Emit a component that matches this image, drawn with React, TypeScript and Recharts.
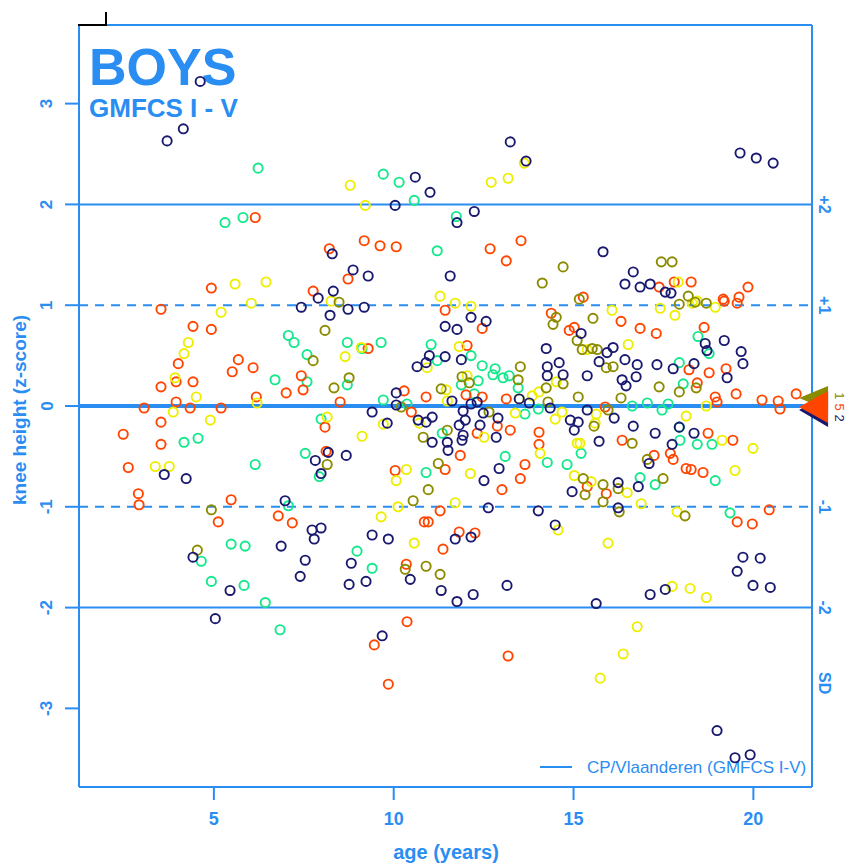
import React from 'react';
import { ScatterChart, Scatter, XAxis, YAxis, ReferenceLine } from 'recharts';

const BLUE = '#2a8df2';
const FONT = '"Liberation Sans", Arial, sans-serif';

// axis setup
const xDomain = [1.25, 21.63];
const yDomain = [-3.78, 3.78];
const xTicks = [5, 10, 15, 20];
const yTicks = [-3, -2, -1, 0, 1, 2, 3];
const sdTicks = [2, 1, -1, -2, -2.75];
const sdLabels = ['+2', '+1', '-1', '-2', 'SD'];
const solidRefs = [-2, 2];
const dashedRefs = [-1, 1];
const meanRef = 0;
const topEdge = 3.78;

// [age (years), knee height z-score], one list per colour
const orangePts: [number, number][] = [
  [6.15, 1.87], [8.21, 1.56], [9.18, 1.64], [9.62, 1.59], [10.07, 1.58], [8.73, 1.26], [4.93, 1.17], [3.53, 0.96],
  [7.76, 1.14], [11.43, 0.95], [4.42, 0.79], [4.93, 0.76], [12.68, 1.56], [13.54, 1.64], [2.48, -0.28], [2.62, -0.61],
  [2.9, -0.87], [2.92, -0.98], [3.06, -0.02], [3.53, 0.19], [3.53, -0.16], [3.53, -0.38], [3.95, 0.04], [3.95, 0.24],
  [4.01, 0.42], [4.42, 0.24], [4.34, -0.02], [5.2, -0.02], [5.48, -0.93], [5.12, -1.15], [5.51, 0.34], [5.68, 0.46],
  [6.09, 0.38], [6.18, 0.09], [7.01, 0.13], [7.43, 0.3], [7.48, 0.16], [9.29, 0.57], [8.51, 0.04], [8.09, -0.21],
  [8.12, -0.45], [6.79, -1.09], [7.18, -1.16], [10.29, 0.15], [10.49, -0.06], [10.9, 0.09], [11.43, -0.63], [10.04, -0.64],
  [11.29, -1.04], [10.85, -1.15], [10.96, -1.15], [11.37, -1.42], [10.35, -1.57], [10.37, -2.14], [9.46, -2.37], [9.85, -2.76],
  [13.18, -2.48], [12.26, -1.26], [11.82, -1.25], [19.55, -1.15], [19.97, -1.17], [20.44, -1.03], [11.85, -0.49], [13.01, -0.83],
  [13.52, -0.72], [13.65, -0.58], [14.04, -0.38], [15.38, -0.8], [15.91, -0.87], [17.24, -0.49], [17.69, -0.47], [17.77, -0.53],
  [18.13, -0.62], [18.27, -0.63], [18.6, -0.66], [16.35, -0.34], [19.43, -0.34], [13.13, 1.44], [17.38, 1.18], [17.8, 1.23],
  [18.27, 1.23], [19.16, 1.06], [19.19, 1.04], [19.6, 1.08], [19.55, 1.02], [19.85, 1.18], [15.27, 1.08], [14.38, 0.92],
  [14.88, 0.75], [15.02, 0.78], [16.32, 0.84], [16.85, 0.77], [17.3, 0.72], [18.63, 0.78], [19.24, 0.37], [18.77, 0.33],
  [19.52, 0.12], [18.94, 0.09], [18.99, 0.04], [18.21, 0.36], [18.44, 0.23], [18.74, -0.27], [15.88, -0.01], [13.24, -0.24],
  [12.88, -0.2], [12.32, -0.27], [14.04, -0.26], [13.13, 0.07], [12.04, 0.6], [12.01, 0.11], [12.46, 0.09], [12.46, 0.77],
  [20.24, 0.06], [20.69, 0.05], [20.74, -0.03], [21.19, 0.12],
];

const yellowPts: [number, number][] = [
  [8.79, 2.19], [9.21, 1.99], [5.59, 1.21], [6.45, 1.23], [6.04, 1.02], [5.2, 0.93], [8.26, 1.04], [11.29, 1.09],
  [11.71, 1.02], [13.63, 2.41], [13.18, 2.26], [12.71, 2.22], [3.37, -0.6], [3.76, -0.6], [3.87, -0.06], [3.92, 0.28],
  [4.17, 0.52], [4.29, 0.63], [4.51, 0.09], [4.9, -0.14], [6.2, 0.03], [9.1, 0.58], [8.65, 0.49], [8.15, -0.11],
  [9.12, -0.3], [10.71, -0.17], [9.71, -0.18], [10.93, 0.38], [11.46, 0.16], [11.49, 0.05], [10.35, -0.63], [10.07, -0.74],
  [10.12, -1.0], [9.65, -1.1], [10.57, -1.36], [11.71, -0.96], [16.77, -2.19], [16.38, -2.46], [15.74, -2.7], [17.74, -1.79],
  [18.24, -1.81], [18.69, -1.9], [14.57, -1.23], [15.96, -1.36], [16.88, -0.97], [17.88, -1.05], [12.13, -0.67], [14.07, -0.47],
  [15.1, -0.37], [15.18, -0.37], [15.02, -0.69], [15.49, -0.75], [16.49, -0.86], [19.49, -0.64], [19.99, -0.42], [19.13, -0.34],
  [17.91, 1.23], [18.44, 1.04], [18.3, 1.02], [18.94, 0.98], [17.41, 0.97], [17.82, 0.9], [16.07, 0.95], [18.13, -0.1],
  [18.69, 0.0], [15.63, -0.08], [15.6, -0.17], [14.52, 0.24], [14.04, 0.14], [13.85, 0.1], [14.68, -0.06], [14.49, -0.13],
  [13.49, 0.07], [13.38, -0.07], [12.51, -0.31], [12.04, 0.3], [11.82, 0.59], [12.15, 0.99], [15.38, 0.56], [16.52, 0.61],
];

const greenPts: [number, number][] = [
  [6.23, 2.36], [9.71, 2.3], [10.15, 2.22], [10.57, 2.04], [11.74, 1.88], [5.31, 1.82], [5.81, 1.87], [11.21, 1.54],
  [4.17, -0.36], [4.56, -0.32], [6.15, -0.58], [6.7, 0.26], [7.07, 0.7], [7.23, 0.63], [7.59, 0.24], [7.59, 0.51],
  [8.71, 0.63], [9.12, 0.57], [9.65, 0.63], [8.71, 0.21], [7.98, -0.13], [7.54, -0.47], [7.93, -0.7], [7.07, -0.99],
  [5.48, -1.37], [5.87, -1.39], [9.71, 0.06], [10.37, 0.02], [11.35, -0.27], [10.9, -0.66], [11.04, 0.61], [11.21, 0.45],
  [4.65, -1.54], [4.93, -1.74], [5.84, -1.78], [6.43, -1.95], [6.84, -2.22], [8.98, -1.44], [9.4, -1.61], [13.1, -0.5],
  [14.27, -0.56], [14.82, -0.58], [15.21, -0.47], [16.85, -0.71], [17.27, -0.78], [18.94, -0.74], [19.35, -1.06], [18.44, -0.38],
  [18.85, -0.38], [17.96, -0.34], [18.46, 0.69], [18.77, 0.52], [17.94, 0.43], [18.05, 0.22], [17.05, 0.03], [17.46, -0.04],
  [17.63, 0.02], [16.63, 0.0], [17.94, -0.21], [13.46, 0.18], [13.65, -0.08], [14.02, -0.03], [12.82, 0.37], [12.76, 0.31],
  [13.04, 0.28], [13.21, 0.3], [12.46, 0.4], [12.35, 0.25], [12.15, 0.5], [11.88, 0.21], [12.24, 0.12],
];

const olivePts: [number, number][] = [
  [8.48, 1.03], [8.09, 0.75], [4.93, -1.03], [7.76, 0.45], [8.76, 0.28], [8.34, 0.18], [8.15, -0.58], [10.21, -0.01],
  [10.82, -0.31], [11.32, 0.17], [11.49, -0.24], [11.24, -0.57], [10.96, -0.83], [10.54, -0.94], [4.54, -1.43], [10.32, -1.62],
  [10.9, -1.59], [11.29, -1.67], [15.27, -0.72], [15.32, -0.88], [15.82, -0.78], [16.24, -0.82], [15.82, -0.95], [17.49, -0.72],
  [17.05, -0.53], [16.27, -1.05], [18.1, -1.09], [16.63, -0.37], [14.71, 1.38], [14.13, 1.22], [17.44, 1.43], [17.74, 1.43],
  [18.19, 1.09], [18.38, 1.03], [18.69, 1.02], [17.94, 1.01], [15.16, 1.06], [15.54, 0.87], [17.94, 0.14], [18.41, 0.18],
  [17.38, 0.19], [16.32, 0.08], [15.96, -0.04], [15.57, -0.2], [15.13, 0.09], [14.24, 0.18], [14.29, 0.04], [14.71, 0.22],
  [13.52, 0.39], [13.46, 0.26], [12.65, -0.06], [11.9, 0.29], [12.1, 0.23], [14.52, 0.88], [14.43, 0.81], [15.1, 0.65],
  [15.24, 0.56], [15.52, 0.57], [15.66, 0.56], [15.91, 0.38], [16.1, 0.39],
];

const navyPts: [number, number][] = [
  [4.62, 3.22], [4.15, 2.75], [3.7, 2.63], [10.6, 2.27], [11.01, 2.12], [10.04, 1.99], [11.76, 1.82], [8.29, 1.51],
  [8.87, 1.35], [9.29, 1.29], [11.57, 1.29], [8.32, 1.14], [7.9, 1.07], [7.43, 0.98], [8.73, 0.96], [9.18, 0.98],
  [8.23, 0.9], [11.43, 0.79], [11.76, 0.76], [3.62, -0.68], [4.23, -0.72], [7.82, -0.54], [8.18, -0.46], [7.98, -0.67],
  [8.68, -0.49], [6.98, -0.94], [7.73, -1.23], [7.98, -1.21], [7.79, -1.32], [6.87, -1.39], [9.4, -0.06], [10.07, 0.13],
  [10.07, 0.01], [10.68, -0.14], [9.82, -0.17], [11.07, -0.36], [11.07, -0.11], [10.9, -0.16], [11.62, 0.05], [11.49, -0.36],
  [11.51, -0.44], [9.4, -1.28], [9.85, -1.32], [11.71, -1.32], [10.99, 0.5], [11.43, 0.49], [10.65, 0.39], [10.9, 0.43],
  [13.24, 2.62], [13.68, 2.43], [19.63, 2.51], [20.08, 2.46], [20.55, 2.41], [12.24, 1.93], [15.82, 1.53], [4.42, -1.5],
  [5.45, -1.83], [7.54, -1.53], [7.4, -1.69], [5.04, -2.11], [8.82, -1.56], [8.76, -1.77], [9.23, -1.74], [10.46, -1.72],
  [11.32, -1.83], [11.76, -1.94], [9.68, -2.28], [12.21, -1.87], [13.15, -1.78], [15.63, -1.96], [17.13, -1.87], [17.55, -1.82],
  [19.71, -1.5], [20.19, -1.51], [19.55, -1.64], [19.99, -1.78], [20.47, -1.8], [18.99, -3.22], [19.49, -3.49], [19.91, -3.46],
  [12.15, -1.3], [12.63, -1.01], [14.02, -1.04], [14.49, -1.18], [16.24, -1.01], [12.51, -0.74], [12.93, -0.62], [14.96, -0.85],
  [16.24, -0.76], [16.8, -0.8], [17.1, -0.57], [17.74, -0.38], [11.9, -0.34], [15.71, -0.35], [16.66, 1.33], [16.43, 1.21],
  [16.85, 1.18], [17.13, 1.21], [17.55, 1.13], [17.71, 1.12], [18.66, 0.62], [18.71, 0.55], [19.19, 0.65], [19.66, 0.54],
  [19.71, 0.42], [19.27, 0.28], [18.35, 0.42], [17.77, 0.37], [17.32, 0.41], [16.66, -0.2], [17.27, -0.27], [17.94, -0.21],
  [18.35, -0.27], [16.43, 0.46], [16.77, 0.41], [16.74, 0.29], [16.35, 0.26], [16.46, 0.2], [16.13, -0.12], [15.38, -0.04],
  [15.38, 0.3], [15.71, 0.44], [15.93, 0.53], [16.1, 0.58], [14.24, 0.57], [14.27, 0.39], [14.27, 0.3], [14.6, 0.43],
  [14.71, 0.31], [14.35, -0.02], [14.91, -0.14], [15.13, -0.16], [15.02, -0.24], [13.49, 0.07], [13.77, 0.03], [12.9, -0.12],
  [12.49, -0.07], [12.4, -0.19], [11.99, -0.14], [11.93, -0.05], [11.82, -0.19], [11.93, -0.29], [12.85, -0.31], [12.15, 0.02],
  [12.32, 0.04], [12.15, 0.88], [12.57, 0.84], [15.21, 0.72], [11.88, 0.46],
];

// group markers at the right edge of the panel
const markerAge = 21.27;
const markerZ = [0.08, -0.04, -0.01];
const markerLabels = ['1', '2', '5'];

const markerStyle = [
  { color: '#8B8B00', half: 12, dy: -2 },
  { color: '#191970', half: 17, dy: 8 },
  { color: '#FF4500', half: 16, dy: 0 },
];

const series = [
  { pts: greenPts, color: '#14E88C' },
  { pts: orangePts, color: '#FF4500' },
  { pts: yellowPts, color: '#EEEE00' },
  { pts: olivePts, color: '#8B8B00' },
  { pts: navyPts, color: '#191970' },
];

const toPts = (arr: [number, number][]) => arr.map(([x, y]) => ({ x, y }));
const markerData = markerZ.map((y, i) => ({ x: markerAge, y, i, label: markerLabels[i] }));

const ring = (color: string) => (p: any) => (
  <circle cx={p.cx} cy={p.cy} r={4.6} fill="none" stroke={color} strokeWidth={1.9} />
);

const Triangle = (p: any) => {
  const i = p.payload ? p.payload.i : p.i;
  const label = p.payload ? p.payload.label : p.label;
  const s = markerStyle[i];
  const w = 29;
  const lx = p.cx + 40;
  const ly = p.cy + s.dy;
  return (
    <g>
      <polygon
        points={`${p.cx},${p.cy} ${p.cx + w},${p.cy - s.half} ${p.cx + w},${p.cy + s.half}`}
        fill={s.color}
      />
      <text x={lx} y={ly} transform={`rotate(90, ${lx}, ${ly})`} textAnchor="middle" dominantBaseline="central"
        fill={s.color} fontSize={13} fontFamily={FONT}>{label}</text>
    </g>
  );
};

const LeftTick = (p: any) => (
  <text x={47} y={p.y} transform={`rotate(-90, 47, ${p.y})`} textAnchor="middle" dominantBaseline="central"
    fill={BLUE} fontSize={17} fontWeight="bold" fontFamily={FONT}>{String(p.payload.value)}</text>
);

const BottomTick = (p: any) => (
  <text x={p.x} y={819} textAnchor="middle" dominantBaseline="central"
    fill={BLUE} fontSize={18} fontWeight="bold" fontFamily={FONT}>{String(p.payload.value)}</text>
);

const RightTick = (p: any) => {
  const idx = sdTicks.indexOf(p.payload.value);
  return (
    <text x={824} y={p.y} transform={`rotate(90, 824, ${p.y})`} textAnchor="middle" dominantBaseline="central"
      fill={BLUE} fontSize={16} fontWeight="bold" fontFamily={FONT}>{idx >= 0 ? sdLabels[idx] : ''}</text>
  );
};

export default function App() {
  return (
    <div style={{ position: 'absolute', left: 0, top: 0, width: 866, height: 866, background: '#fff' }}>
      <svg width={866} height={866} style={{ position: 'absolute', left: 0, top: 0 }}>
        <text x={89} y={85} fill={BLUE} fontSize={52} fontWeight="bold" fontFamily={FONT}>BOYS</text>
        <text x={89} y={117} fill={BLUE} fontSize={26} fontWeight="bold" fontFamily={FONT}>GMFCS I - V</text>
        <text x={19} y={410} transform="rotate(-90, 19, 410)" textAnchor="middle" dominantBaseline="central"
          fill={BLUE} fontSize={19} fontWeight="bold" fontFamily={FONT}>knee height (z-score)</text>
        <text x={446} y={852} textAnchor="middle" dominantBaseline="central"
          fill={BLUE} fontSize={20} fontWeight="bold" fontFamily={FONT}>age (years)</text>
        <line x1={540} x2={572} y1={767} y2={767} stroke={BLUE} strokeWidth={2} />
        <text x={587} y={767} dominantBaseline="central" fill={BLUE} fontSize={17} fontFamily={FONT}>
          CP/Vlaanderen (GMFCS I-V)
        </text>
      </svg>
      <div style={{ position: 'absolute', left: 0, top: 0 }}>
        <ScatterChart width={866} height={866} margin={{ top: 25, right: 0, bottom: 0, left: 19 }}>
          <XAxis type="number" dataKey="x" domain={xDomain} ticks={xTicks} interval={0} height={79}
            tickSize={13} tickLine={{ stroke: BLUE, strokeWidth: 2 }} axisLine={{ stroke: BLUE, strokeWidth: 2 }}
            tick={<BottomTick />} />
          <YAxis yAxisId="l" type="number" dataKey="y" domain={yDomain} ticks={yTicks} interval={0} width={60}
            tickSize={14} tickLine={{ stroke: BLUE, strokeWidth: 2 }} axisLine={{ stroke: BLUE, strokeWidth: 2 }}
            tick={<LeftTick />} />
          <YAxis yAxisId="r" orientation="right" type="number" domain={yDomain} ticks={sdTicks} interval={0}
            width={54} allowDataOverflow tickLine={false} axisLine={{ stroke: BLUE, strokeWidth: 2 }}
            tick={<RightTick />} />
          <ReferenceLine yAxisId="l" y={topEdge} stroke={BLUE} strokeWidth={2} />
          {solidRefs.map((v) => (
            <ReferenceLine key={`s${v}`} yAxisId="l" y={v} stroke={BLUE} strokeWidth={2} />
          ))}
          {dashedRefs.map((v) => (
            <ReferenceLine key={`d${v}`} yAxisId="l" y={v} stroke={BLUE} strokeWidth={2} strokeDasharray="9 7" />
          ))}
          <ReferenceLine yAxisId="l" y={meanRef} stroke={BLUE} strokeWidth={4} />
          {series.map((s, i) => (
            <Scatter key={i} yAxisId="l" data={toPts(s.pts)} shape={ring(s.color)} isAnimationActive={false} />
          ))}
          <Scatter yAxisId="l" data={markerData} shape={Triangle} isAnimationActive={false} />
        </ScatterChart>
      </div>
      <div style={{ position: 'absolute', left: 78, top: 24, width: 28, height: 2, background: '#000' }} />
      <div style={{ position: 'absolute', left: 105, top: 12, width: 2, height: 14, background: '#000' }} />
    </div>
  );
}
